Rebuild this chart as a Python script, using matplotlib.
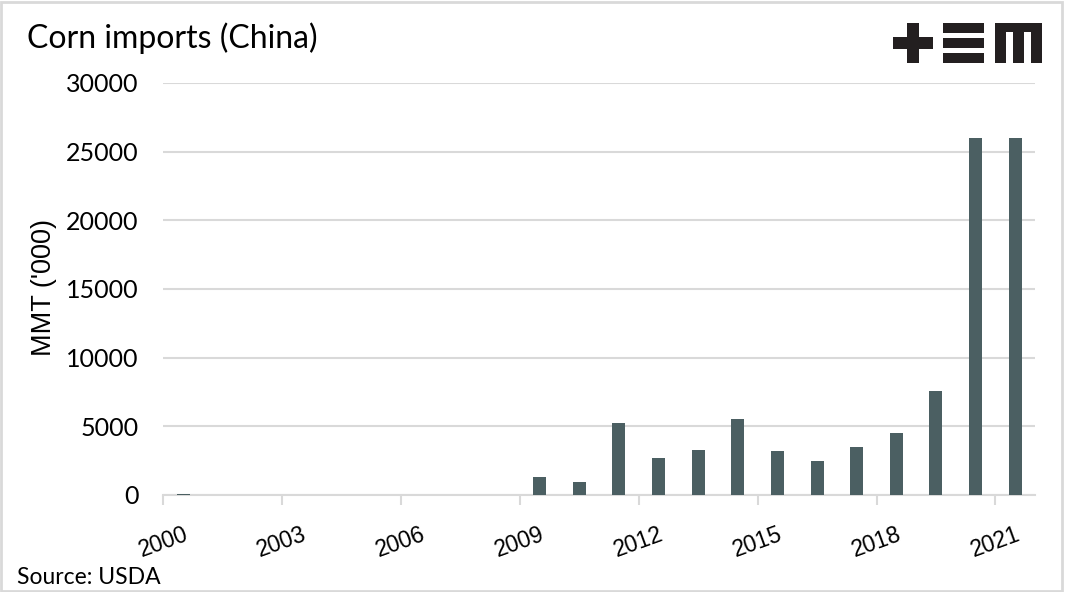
import matplotlib
matplotlib.use("Agg")
from matplotlib import pyplot as plt
from matplotlib.patches import Rectangle

years = list(range(2000, 2022))
imports = [90, 0, 0, 0, 0, 0, 0, 0, 0, 1300, 980, 5230, 2700, 3280, 5520,
           3170, 2460, 3460, 4480, 7600, 26000, 26000]
tick_years = [2000, 2003, 2006, 2009, 2012, 2015, 2018, 2021]

bar_color = "#4b5f62"
grid_color = "#d9d9d9"

W, H = 1065, 592
fig = plt.figure(figsize=(W / 100, H / 100), dpi=100)
ax = fig.add_axes([163.3 / W, 1 - 495 / H, (1035 - 163.3) / W, (495 - 83) / H])

x = list(range(len(years)))
ax.bar(x, imports, width=0.33, color=bar_color, zorder=3)

ax.set_xlim(-0.5, len(years) - 0.5)
ax.set_ylim(0, 30000)
ax.set_yticks(range(0, 30001, 5000))
ax.tick_params(axis="y", length=0, pad=18, labelsize=18)
for lab in ax.get_yticklabels():
    lab.set_fontfamily("Lato")
ax.grid(axis="y", color=grid_color, linewidth=1.5, zorder=0)

# ticks between categories, labels centred on categories
pos = [years.index(y) for y in tick_years]
ax.set_xticks([p - 0.5 for p in pos])
ax.set_xticklabels([])
ax.tick_params(axis="x", which="major", length=7, width=1.5, color=grid_color)
ax.set_xticks(pos, minor=True)
ax.set_xticklabels([str(y) for y in tick_years], minor=True, rotation=20,
                   ha="right", rotation_mode="anchor", fontsize=16.5,
                   fontfamily="Liberation Sans")
ax.tick_params(axis="x", which="minor", length=0, pad=20)

for s in ["top", "right", "left"]:
    ax.spines[s].set_visible(False)
ax.spines["bottom"].set_color(grid_color)
ax.spines["bottom"].set_linewidth(1.5)

fig.text(44 / W, 1 - 287 / H, "MMT ('000)", fontsize=19.5, fontfamily="Liberation Sans",
         rotation=90, va="center", ha="center")

fig.text(27 / W, 1 - 38 / H, "Corn imports (China)", fontsize=23, fontfamily="Lato",
         va="center", ha="left")
fig.text(17 / W, 1 - 577 / H, "Source: USDA", fontsize=16.5, fontfamily="Lato",
         va="center", ha="left")

# logo
logo = "#231f20"
def box(x0, y0, x1, y1):
    fig.patches.append(Rectangle((x0 / W, 1 - y1 / H), (x1 - x0) / W, (y1 - y0) / H,
                                 transform=fig.transFigure, color=logo, lw=0))
box(893, 37, 933, 49)
box(907, 23, 919, 63)
box(943, 23, 984, 33)
box(943, 38, 984, 48)
box(943, 53, 984, 63)
box(995, 23, 1042, 32)
box(995, 23, 1006, 63)
box(1013, 23, 1024, 63)
box(1031, 23, 1042, 63)

# frame
fig.patches.append(Rectangle((1 / W, 1 / H), (W - 4) / W, (H - 3) / H,
                             transform=fig.transFigure, fill=False,
                             edgecolor=grid_color, lw=2))

fig.savefig("out.png", dpi=100)
